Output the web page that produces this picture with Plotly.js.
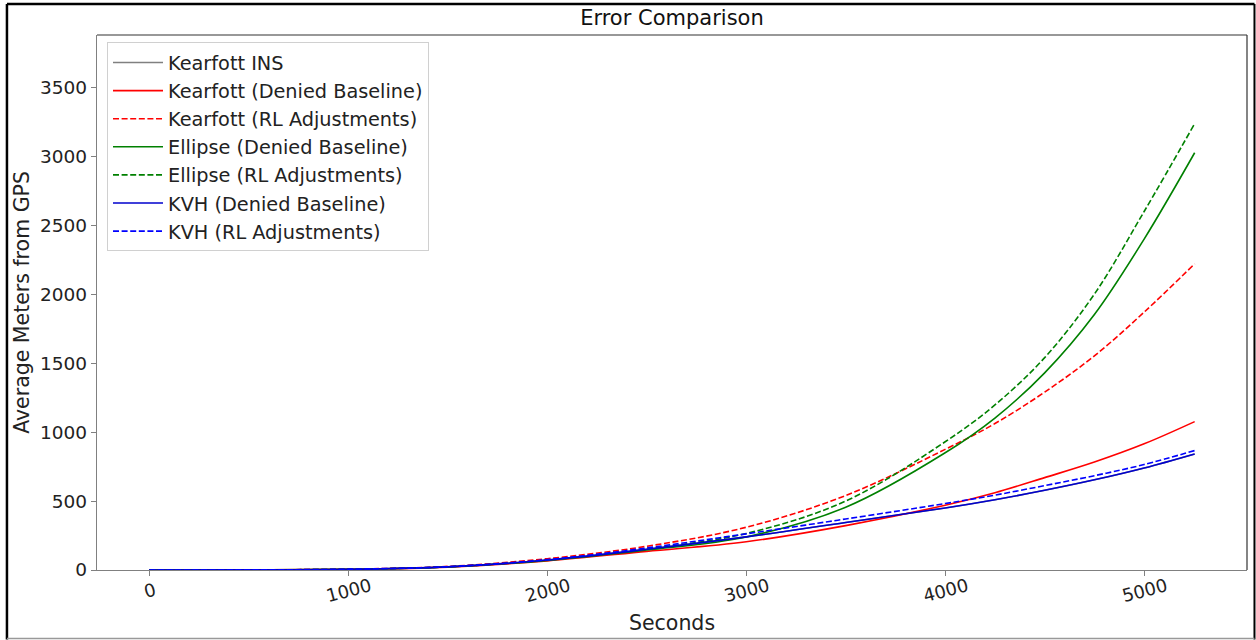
<!DOCTYPE html>
<html>
<head>
<meta charset="utf-8">
<script src="https://cdn.plot.ly/plotly-3.0.1.min.js"></script>
<style>
html,body{margin:0;padding:0;background:#fff;}
#chart{width:1256px;height:640px;}
</style>
</head>
<body>
<div id="chart"></div>
<script>
const seconds = [0, 500, 1000, 1500, 2000, 2500, 3000, 3500, 4000, 4250, 4500, 4750, 5000, 5254];
const kearfottINS         = [0, 1, 5, 23, 72, 150, 240, 345, 450, 510, 578, 654, 740, 842];
const kearfottBaseline    = [0, 1, 5, 21, 66, 135, 205, 322, 470, 561, 670, 783, 915, 1076];
const kearfottRL          = [0, 1, 6, 26, 82, 172, 310, 540, 875, 1062, 1290, 1553, 1870, 2221];
const ellipseBaseline     = [0, 1, 5, 22, 70, 145, 240, 455, 850, 1102, 1430, 1853, 2400, 3026];
const ellipseRL           = [0, 1, 5, 23, 72, 152, 265, 500, 930, 1197, 1540, 2001, 2600, 3237];
const kvhBaseline         = [0, 1, 5, 23, 72, 150, 240, 345, 450, 510, 578, 654, 740, 842];
const kvhRL               = [0, 1, 6, 24, 75, 160, 262, 370, 482, 543, 612, 684, 765, 866];

const xTickValues = [0, 1000, 2000, 3000, 4000, 5000];
const xTickLabels = ["\u2007\u20080\u2007\u2008", "1000", "2000", "3000", "4000", "5000"];
const yTickValues = [0, 500, 1000, 1500, 2000, 2500, 3000, 3500];

const seriesNames = ["Kearfott INS", "Kearfott (Denied Baseline)", "Kearfott (RL Adjustments)",
  "Ellipse (Denied Baseline)", "Ellipse (RL Adjustments)", "KVH (Denied Baseline)", "KVH (RL Adjustments)"];
const seriesData = [kearfottINS, kearfottBaseline, kearfottRL, ellipseBaseline, ellipseRL, kvhBaseline, kvhRL];
const seriesColors = ["#808080", "#ff0000", "#ff0000", "#008000", "#008000", "#0000cd", "#0000ff"];
const seriesDash = ["solid", "solid", "6px,2.6px", "solid", "6px,2.6px", "solid", "6px,2.6px"];

const traces = seriesNames.map((n, i) => ({
  x: seconds, y: seriesData[i], name: n, type: "scatter", mode: "lines",
  line: {color: seriesColors[i], width: 1.6, dash: seriesDash[i], shape: "spline", smoothing: 1.0}
}));

const font = "DejaVu Sans, Arial, sans-serif";
const layout = {
  width: 1256, height: 640,
  margin: {l: 97, r: 9, t: 35, b: 70},
  paper_bgcolor: "#fff", plot_bgcolor: "#fff",
  font: {family: font, color: "#000", size: 18},
  title: {text: "Error Comparison", font: {family: font, size: 21, color: "#111"}, x: 0.535, xanchor: "center", y: 0.972, yanchor: "middle"},
  showlegend: true,
  legend: {x: 0.0087, y: 0.986, xanchor: "left", yanchor: "top", bgcolor: "rgba(255,255,255,0.85)",
    bordercolor: "#d0d0d0", borderwidth: 1, font: {family: font, size: 19.3, color: "#222"},
    itemwidth: 50, tracegroupgap: 0},
  xaxis: {range: [-263, 5517], tickvals: xTickValues, ticktext: xTickLabels,
    tickangle: -15, ticklabelshift: 22, ticklabelstandoff: -7, ticks: "outside", ticklen: 5, tickcolor: "#808080", showline: true, linecolor: "#808080", linewidth: 1.2,
    showgrid: false, zeroline: false, tickfont: {family: font, size: 18, color: "#222"},
    title: {text: "Seconds", font: {family: font, size: 20.5, color: "#222"}, standoff: 10}},
  yaxis: {range: [0, 3880], tickvals: yTickValues,
    ticks: "outside", ticklen: 5, tickcolor: "#808080", showline: true, linecolor: "#808080", linewidth: 1.2,
    showgrid: false, zeroline: false, tickfont: {family: font, size: 18.5, color: "#222"},
    title: {text: "Average Meters from GPS", font: {family: font, size: 20.5, color: "#222"}, standoff: 4}},
  shapes: [
    {type: "line", xref: "paper", yref: "paper", x0: 0, x1: 1, y0: 1, y1: 1, line: {color: "#333", width: 1.2}},
    {type: "line", xref: "paper", yref: "paper", x0: 1, x1: 1, y0: 0, y1: 1, line: {color: "#333", width: 1.2}},
    {type: "line", xref: "paper", yref: "paper", x0: -0.0783, x1: -0.0783, y0: -0.13, y1: 1.058, line: {color: "#000", width: 2.5}},
    {type: "line", xref: "paper", yref: "paper", x0: -0.0783, x1: 1.0065, y0: 1.058, y1: 1.058, line: {color: "#000", width: 2.5}},
    {type: "line", xref: "paper", yref: "paper", x0: 1.0065, x1: 1.0065, y0: -0.13, y1: 1.058, line: {color: "#000", width: 2}},
    {type: "line", xref: "paper", yref: "paper", x0: -0.0783, x1: 1.0065, y0: -0.128, y1: -0.128, line: {color: "#999", width: 1.5}}
  ]
};
Plotly.newPlot("chart", traces, layout, {displayModeBar: false, staticPlot: true});
</script>
</body>
</html>
